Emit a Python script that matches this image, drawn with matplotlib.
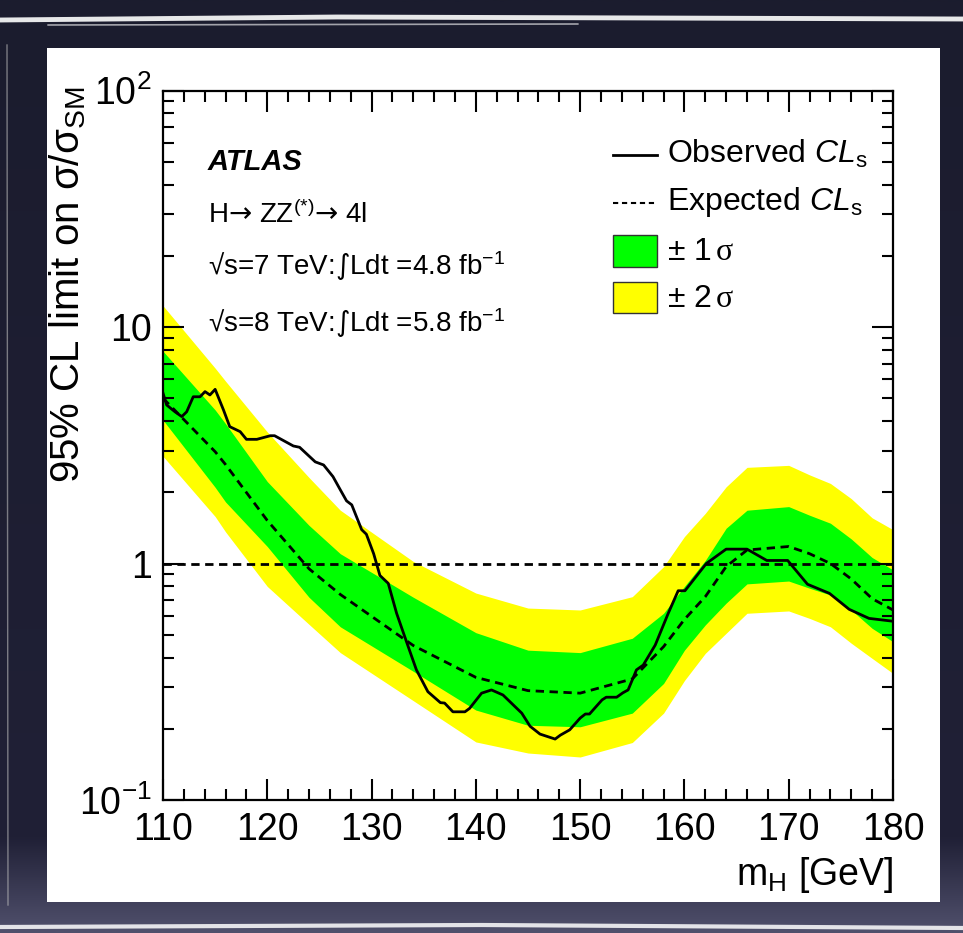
import numpy as np
import matplotlib
matplotlib.use('Agg')
import matplotlib.pyplot as plt
from matplotlib.patches import Rectangle
from matplotlib.lines import Line2D
from matplotlib.ticker import MultipleLocator, LogLocator, NullFormatter

plt.rcParams['font.family'] = ['Liberation Sans', 'DejaVu Sans']
plt.rcParams['mathtext.fontset'] = 'custom'
plt.rcParams['mathtext.rm'] = 'Liberation Sans'
plt.rcParams['mathtext.it'] = 'Liberation Sans:italic'
plt.rcParams['mathtext.bf'] = 'Liberation Sans:bold'
plt.rcParams['mathtext.sf'] = 'Liberation Serif'
plt.rcParams['mathtext.cal'] = 'DejaVu Sans'

# expected limit and bands (vertices)
mass_band = [110, 115, 116, 120, 124, 127, 134, 140, 145, 150, 155, 158, 160,
             162, 164, 166, 170, 172, 174, 176, 178, 180]
exp_limit = [5.0, 2.97, 2.62, 1.52, 0.95, 0.74, 0.45, 0.33, 0.29, 0.283, 0.325, 0.445, 0.58,
             0.724, 0.97, 1.14, 1.18, 1.10, 1.0, 0.86, 0.71, 0.636]
sig1_up = [7.9, 4.46, 3.9, 2.22, 1.45, 1.1, 0.72, 0.51, 0.43, 0.42, 0.483, 0.616, 0.80,
           1.03, 1.41, 1.68, 1.74, 1.60, 1.48, 1.27, 1.06, 0.94]
sig1_dn = [4.04, 2.1, 1.82, 1.18, 0.72, 0.54, 0.35, 0.24, 0.207, 0.204, 0.233, 0.311, 0.43,
           0.55, 0.68, 0.82, 0.843, 0.786, 0.736, 0.636, 0.532, 0.467]
sig2_up = [12.3, 6.7, 5.9, 3.6, 2.31, 1.68, 1.02, 0.75, 0.648, 0.636, 0.724, 0.97, 1.30,
           1.63, 2.11, 2.55, 2.6, 2.37, 2.18, 1.88, 1.56, 1.39]
sig2_dn = [2.84, 1.58, 1.36, 0.80, 0.553, 0.42, 0.263, 0.176, 0.158, 0.152, 0.175, 0.233, 0.32,
           0.417, 0.507, 0.616, 0.63, 0.586, 0.54, 0.46, 0.397, 0.343]

# observed limit
obs_mass = [110.0, 110.35, 111.15, 111.8, 112.27, 112.9, 113.55, 114.03, 114.5, 115.0,
            115.8, 116.4, 117.4, 118.0, 119.0, 120.3, 120.7, 122.5, 123.1, 124.6,
            125.4, 126.3, 127.0, 127.6, 128.1, 129.05, 129.5, 130.2, 130.8, 131.6,
            132.4, 133.4, 134.3, 135.4, 136.6, 137.0, 137.8, 138.95, 139.4, 140.55,
            141.5, 142.6, 143.6, 144.4, 145.2, 146.15, 147.6, 148.1, 149.0, 150.0,
            150.5, 150.9, 152.1, 152.5, 153.5, 154.1, 154.6, 155.4, 156.05, 157.2,
            158.45, 159.4, 160.05, 162.1, 164.0, 166.0, 167.9, 169.9, 171.8, 173.9,
            175.8, 177.7, 180.0]
obs_limit = [5.25, 4.68, 4.38, 4.18, 4.38, 5.07, 5.07, 5.33, 5.16, 5.45,
             4.46, 3.79, 3.61, 3.35, 3.35, 3.47, 3.47, 3.14, 3.10, 2.69,
             2.61, 2.33, 2.05, 1.84, 1.77, 1.39, 1.33, 1.10, 0.89, 0.824,
             0.616, 0.46, 0.355, 0.287, 0.258, 0.257, 0.236, 0.236, 0.244, 0.283,
             0.292, 0.278, 0.252, 0.233, 0.205, 0.19, 0.181, 0.188, 0.198, 0.222,
             0.231, 0.231, 0.265, 0.272, 0.272, 0.284, 0.292, 0.355, 0.372, 0.452,
             0.616, 0.767, 0.767, 1.0, 1.15, 1.15, 1.03, 1.03, 0.817, 0.748,
             0.64, 0.586, 0.57]

W, H = 963, 933
def fx(px):
    return px / W
def fy(py):
    return 1 - py / H

fig = plt.figure(figsize=(9.63, 9.33), dpi=100)

# dark frame behind the white panel
bg = fig.add_axes([0, 0, 1, 1], zorder=-10)
top_c = np.array([27, 28, 46]) / 255
mid_c = np.array([32, 32, 54]) / 255
bot_c = np.array([80, 80, 108]) / 255
t = np.linspace(0, 1, 200)[:, None]
grad = np.where(t < 0.9, top_c + (mid_c - top_c) * (t / 0.9),
                mid_c + (bot_c - mid_c) * ((t - 0.9) / 0.1))
bg.imshow(grad[:, None, :], extent=[0, 1, 0, 1], aspect='auto', interpolation='bilinear')
bg.plot([0.0, 0.35, 1.0], [fy(20), fy(17), fy(19)], color='white', lw=3.5, alpha=0.9)
bg.plot([0.05, 0.6], [fy(25), fy(24)], color='white', lw=1.2, alpha=0.6)
bg.plot([0.0, 0.5, 1.0], [fy(927), fy(925), fy(928)], color='white', lw=3, alpha=0.85)
bg.plot([fx(7), fx(8)], [fy(45), fy(905)], color='#bbbbbb', lw=1, alpha=0.6)
bg.add_patch(Rectangle((fx(47), fy(902)), fx(940) - fx(47), fy(48) - fy(902),
                       facecolor='white', edgecolor='none'))
bg.set_xlim(0, 1)
bg.set_ylim(0, 1)
bg.axis('off')

ax = fig.add_axes([fx(163), fy(800), (893 - 163) / W, (800 - 90.5) / H])
ax.fill_between(mass_band, sig2_dn, sig2_up, color='#ffff00', lw=0)
ax.fill_between(mass_band, sig1_dn, sig1_up, color='#00ff00', lw=0)
ax.axhline(1, color='black', lw=2, ls=(0, (3, 2)))
ax.plot(mass_band, exp_limit, color='black', lw=2, ls=(0, (3, 2)))
ax.plot(obs_mass, obs_limit, color='black', lw=2)

ax.set_yscale('log')
ax.set_xlim(110, 180)
ax.set_ylim(0.1, 100)
ax.set_xticks(range(110, 181, 10))
ax.xaxis.set_minor_locator(MultipleLocator(2))
ax.set_yticks([0.1, 1, 10, 100])
ax.set_yticklabels(['$\\mathregular{10^{-1}}$', '1', '10', '$\\mathregular{10^{2}}$'])
ax.yaxis.set_minor_locator(LogLocator(base=10, subs=np.arange(2, 10)))
ax.yaxis.set_minor_formatter(NullFormatter())
ax.tick_params(which='both', direction='in', top=True, right=True, width=1.5, labelsize=27)
ax.tick_params(which='major', length=15)
ax.tick_params(which='minor', length=8)
ax.tick_params(axis='x', pad=9)
ax.tick_params(axis='y', pad=8)
for s in ax.spines.values():
    s.set_linewidth(1.6)

# axis titles
fig.text(fx(68), fy(87), '95% CL limit on σ/σ$_{\\mathrm{SM}}$', rotation=90,
         ha='center', va='top', size=29)
fig.text(fx(893), fy(885), 'm$_{\\mathrm{H}}$ [GeV]', ha='right', va='baseline', size=27)

# labels inside the frame
fig.text(fx(208), fy(170), 'ATLAS', weight='bold', style='italic', size=21, va='baseline')
fig.text(fx(208), fy(223), 'H$\\mathcal{→}$ ZZ$^{(*)}$$\\mathcal{→}$ 4l', size=20, va='baseline')
fig.text(fx(208), fy(275), '√s=7 TeV:$\\mathcal{∫}$Ldt =4.8 fb$^{-1}$', size=20, va='baseline')
fig.text(fx(208), fy(332), '√s=8 TeV:$\\mathcal{∫}$Ldt =5.8 fb$^{-1}$', size=20, va='baseline')

# legend
fig.add_artist(Line2D([fx(613), fx(657)], [fy(155), fy(155)], color='black', lw=2))
fig.add_artist(Line2D([fx(613), fx(657)], [fy(203), fy(203)], color='black', lw=1.5,
                      ls=(0, (2.5, 1.8))))
fig.add_artist(Rectangle((fx(613), fy(267)), fx(657) - fx(613), fy(235) - fy(267),
                         transform=fig.transFigure, facecolor='#00ff00', edgecolor='#333333', lw=1))
fig.add_artist(Rectangle((fx(613), fy(313)), fx(657) - fx(613), fy(282) - fy(313),
                         transform=fig.transFigure, facecolor='#ffff00', edgecolor='#333333', lw=1))
fig.text(fx(667), fy(163), 'Observed $\\mathit{CL}_{\\mathrm{s}}$', size=23, va='baseline')
fig.text(fx(667), fy(210), 'Expected $\\mathit{CL}_{\\mathrm{s}}$', size=23, va='baseline')
fig.text(fx(667), fy(260), '± 1$\\,\\mathsf{σ}$', size=23, va='baseline')
fig.text(fx(667), fy(307), '± 2$\\,\\mathsf{σ}$', size=23, va='baseline')

fig.savefig('out.png', dpi=100)
